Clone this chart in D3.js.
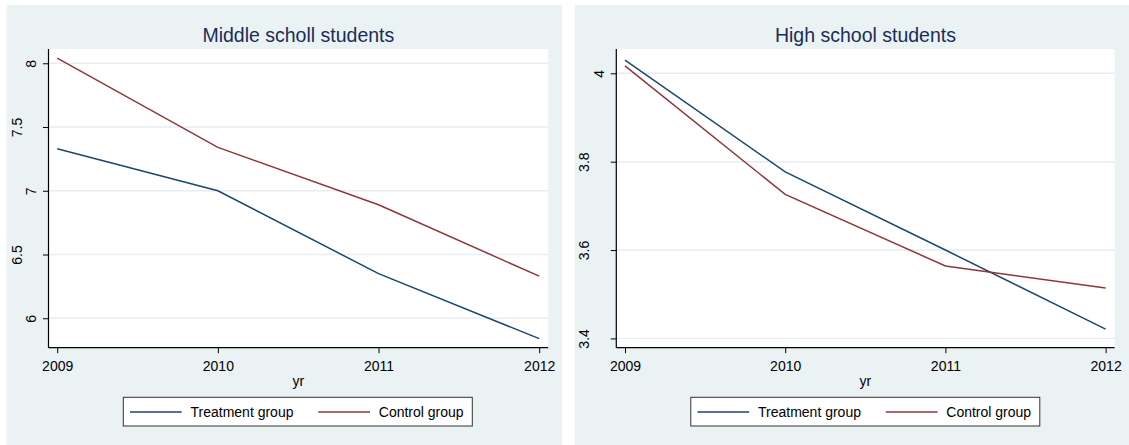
<!DOCTYPE html>
<html>
<head>
<meta charset="utf-8">
<script src="https://cdn.jsdelivr.net/npm/d3@7"></script>
<style>
  body { margin: 0; background: #fff; }
  text { font-family: "Liberation Sans", Arial, sans-serif; }
</style>
</head>
<body>
<svg id="chart" width="1129" height="445"></svg>
<script>
// values
var years = [2009, 2010, 2011, 2012];
var seriesNames = ["Treatment group", "Control group"];
var seriesColors = ["#1a476f", "#90353b"];
var midTreatment = [7.33, 7.00, 6.35, 5.84];
var midControl = [8.04, 7.34, 6.89, 6.33];
var highTreatment = [4.030, 3.777, 3.600, 3.421];
var highControl = [4.017, 3.726, 3.564, 3.514];
var midTicks = [6, 6.5, 7, 7.5, 8];
var highTicks = [3.4, 3.6, 3.8, 4];

var svg = d3.select("#chart");

function drawPanel(p) {
  var top = 49, bottom = 347.7;

  // graph region background
  svg.append("rect")
      .attr("x", p.bgX).attr("y", 5)
      .attr("width", p.bgW).attr("height", 440)
      .attr("fill", "#eaf2f3");

  // plot region
  svg.append("rect")
      .attr("x", p.left).attr("y", top)
      .attr("width", p.right - p.left).attr("height", bottom - top)
      .attr("fill", "#fff");

  var x = d3.scaleLinear().domain([2009, 2012]).range([p.left + 8.7, p.right - 9]),
      y = d3.scaleLinear().domain(p.yDomain).range([bottom, top]);

  // grid lines
  svg.append("g").selectAll("line")
      .data(p.ticks)
      .enter().append("line")
      .attr("x1", p.left).attr("x2", p.right)
      .attr("y1", function(d) { return y(d); })
      .attr("y2", function(d) { return y(d); })
      .attr("stroke", "#e6eef1")
      .attr("stroke-width", 1.4);

  // title
  svg.append("text")
      .attr("x", (p.left + p.right) / 2).attr("y", 41.7)
      .attr("text-anchor", "middle")
      .attr("font-size", 19.5)
      .attr("fill", "#1c2d57")
      .text(p.title);

  // lines
  var line = d3.line()
      .x(function(d, i) { return x(years[i]); })
      .y(function(d) { return y(d); });

  p.series.forEach(function(s, i) {
    svg.append("path")
        .datum(s)
        .attr("fill", "none")
        .attr("stroke", seriesColors[i])
        .attr("stroke-width", 1.5)
        .attr("d", line);
  });

  // x axis
  var gx = svg.append("g")
      .attr("transform", "translate(0," + bottom + ")")
      .call(d3.axisBottom(x).tickValues(years).tickFormat(d3.format("d")).tickSize(5.5));
  gx.select(".domain").remove();
  gx.selectAll("line").attr("stroke", "#000");
  gx.selectAll("text")
      .attr("y", 23.3).attr("dy", null)
      .attr("font-size", 14).attr("fill", "#000");
  gx.append("line")
      .attr("x1", p.left).attr("x2", p.right)
      .attr("stroke", "#000").attr("stroke-width", 1.2);

  svg.append("text")
      .attr("x", (p.left + p.right) / 2).attr("y", 386)
      .attr("text-anchor", "middle")
      .attr("font-size", 14)
      .attr("fill", "#000")
      .text("yr");

  // y axis, vertical labels
  var gy = svg.append("g")
      .attr("transform", "translate(" + p.left + ",0)")
      .call(d3.axisLeft(y).tickValues(p.ticks).tickFormat(d3.format("")).tickSize(5.5));
  gy.select(".domain").remove();
  gy.selectAll("line").attr("stroke", "#000");
  gy.selectAll("text")
      .attr("font-size", 14).attr("fill", "#000")
      .each(function() {
        var len = this.getComputedTextLength();
        d3.select(this)
            .attr("x", null).attr("dy", null)
            .attr("text-anchor", "middle")
            .attr("transform", "translate(" + (-2.5 - 1.25 * len) + ",0) rotate(-90)");
      });
  gy.append("line")
      .attr("y1", top).attr("y2", bottom)
      .attr("stroke", "#000").attr("stroke-width", 1.2);

  // legend
  var bx = p.legendX, by = 397.3;
  var lg = svg.append("g");
  lg.append("rect")
      .attr("x", bx).attr("y", by)
      .attr("width", 349).attr("height", 28.7)
      .attr("fill", "#fff")
      .attr("stroke", "#333").attr("stroke-width", 1);
  var itemX = [6.7, 195];
  seriesNames.forEach(function(name, i) {
    lg.append("line")
        .attr("x1", bx + itemX[i]).attr("x2", bx + itemX[i] + 51.7)
        .attr("y1", 412).attr("y2", 412)
        .attr("stroke", seriesColors[i]).attr("stroke-width", 1.5);
    lg.append("text")
        .attr("x", bx + itemX[i] + 60.5).attr("y", 417)
        .attr("font-size", 14).attr("fill", "#000")
        .text(name);
  });
}

drawPanel({
  title: "Middle scholl students",
  bgX: 6.5, bgW: 555.5,
  left: 48.5, right: 548.2,
  yDomain: [5.769, 8.112],
  ticks: midTicks,
  series: [midTreatment, midControl],
  legendX: 123.3
});

drawPanel({
  title: "High school students",
  bgX: 574.7, bgW: 554.3,
  left: 616.3, right: 1114.6,
  yDomain: [3.379, 4.055],
  ticks: highTicks,
  series: [highTreatment, highControl],
  legendX: 690.8
});
</script>
</body>
</html>
